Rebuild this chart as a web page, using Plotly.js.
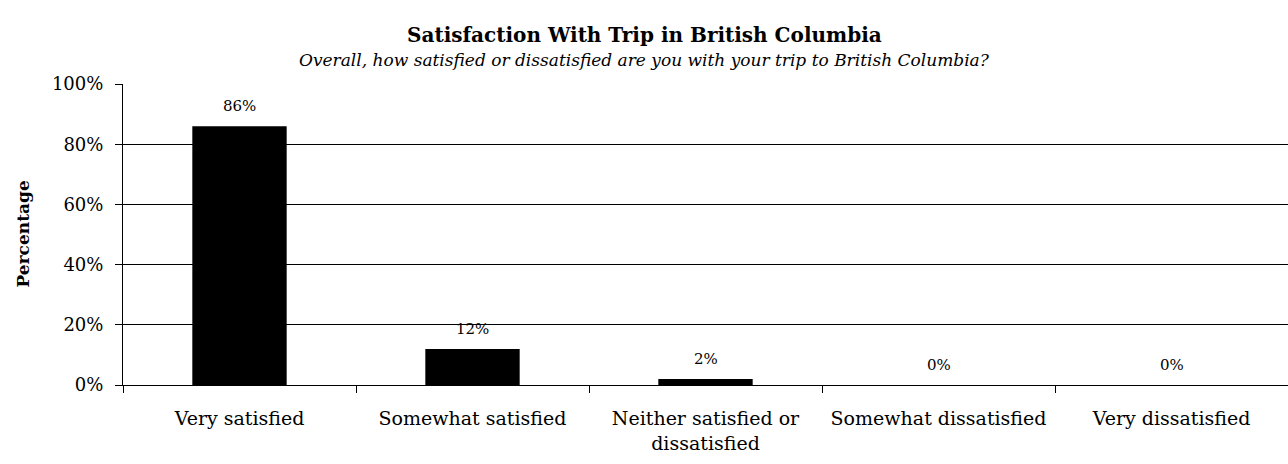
<!DOCTYPE html>
<html>
<head>
<meta charset="utf-8">
<script src="https://cdn.plot.ly/plotly-3.0.1.min.js"></script>
<style>html,body{margin:0;padding:0;background:#fff;}#chart{width:1288px;height:464px;}</style>
</head>
<body>
<div id="chart"></div>
<script>
const categories = ["Very satisfied", "Somewhat satisfied", "Neither satisfied or<br>dissatisfied", "Somewhat dissatisfied", "Very dissatisfied"];
const percentages = [86, 12, 2, 0, 0];
const yTickValues = [0, 20, 40, 60, 80, 100];
const yTickLabels = ["0%", "20%", "40%", "60%", "80%", "100%"];
const chartTitle = "Satisfaction With Trip in British Columbia";
const chartSubtitle = "Overall, how satisfied or dissatisfied are you with your trip to British Columbia?";
const yTitle = "Percentage";

const FONT = "DejaVu Serif, serif";

const trace = {
  type: "bar",
  x: categories,
  y: percentages,
  marker: {color: "#000000", line: {width: 0}},
  hoverinfo: "skip"
};

const valueLabels = categories.map((c, i) => ({
  text: percentages[i] + "%",
  x: c, y: percentages[i], xref: "x", yref: "y",
  yshift: 20, showarrow: false, xanchor: "center", yanchor: "middle",
  font: {family: FONT, size: 15, color: "#000"}
}));

const layout = {
  width: 1288,
  height: 464,
  margin: {l: 123, r: 0, t: 84, b: 79},
  paper_bgcolor: "#fff",
  plot_bgcolor: "#fff",
  showlegend: false,
  bargap: 0.595,
  font: {family: FONT, color: "#000"},
  xaxis: {
    type: "category",
    tickson: "boundaries",
    ticks: "outside",
    ticklen: 7,
    tickcolor: "#000",
    tickwidth: 1,
    showline: true,
    linecolor: "#000",
    linewidth: 1,
    showgrid: false,
    ticklabelstandoff: 16,
    tickfont: {family: FONT, size: 19, color: "#000"},
    fixedrange: true
  },
  yaxis: {
    range: [0, 100],
    tickvals: yTickValues,
    ticktext: yTickLabels,
    ticks: "outside",
    ticklen: 7,
    tickcolor: "#000",
    showline: true,
    linecolor: "#000",
    linewidth: 1,
    showgrid: true,
    gridcolor: "#000",
    gridwidth: 1,
    zeroline: false,
    ticklabelstandoff: 8,
    tickfont: {family: FONT, size: 18, color: "#000"},
    fixedrange: true
  },
  annotations: [
    {text: "<b>" + chartTitle + "</b>", xref: "paper", yref: "paper", x: 0.4475, y: 1, yshift: 49, xanchor: "center", yanchor: "middle", showarrow: false, font: {family: FONT, size: 20, color: "#000"}},
    {text: "<i>" + chartSubtitle + "</i>", xref: "paper", yref: "paper", x: 0.4475, y: 1, yshift: 24, xanchor: "center", yanchor: "middle", showarrow: false, font: {family: FONT, size: 17, color: "#000"}},
    {text: "<b>" + yTitle + "</b>", xref: "paper", yref: "paper", x: 0, xshift: -101, y: 0.5, textangle: -90, xanchor: "center", yanchor: "middle", showarrow: false, font: {family: FONT, size: 17, color: "#000"}}
  ].concat(valueLabels)
};

Plotly.newPlot("chart", [trace], layout, {displayModeBar: false, staticPlot: true});
</script>
</body>
</html>
